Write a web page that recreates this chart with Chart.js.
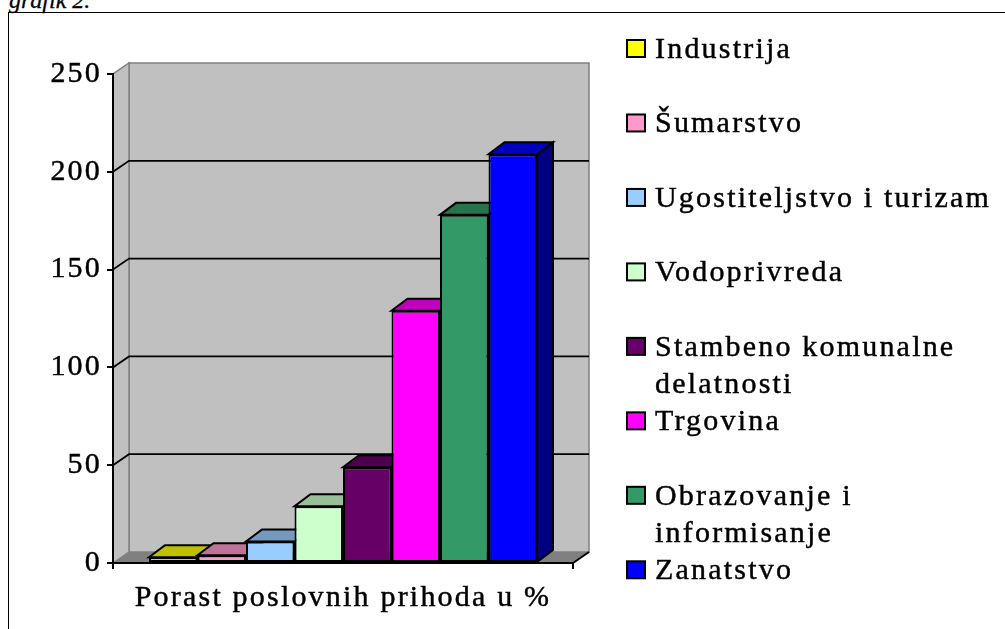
<!DOCTYPE html>
<html>
<head>
<meta charset="utf-8">
<script src="https://cdn.jsdelivr.net/npm/chart.js@4/dist/chart.umd.min.js"></script>
<style>
  html,body{margin:0;padding:0;background:#fff;width:1005px;height:629px;overflow:hidden;}
  #frame{position:absolute;left:8px;top:12px;width:1100px;height:700px;border-left:1.5px solid #000;border-top:1.5px solid #000;}
  #cap{position:absolute;left:9px;top:-12px;line-height:24px;font-style:italic;font-size:24px;font-family:"Liberation Serif","Times New Roman",serif;color:#000;white-space:nowrap;-webkit-text-stroke:0.3px #000;}
  #c{position:absolute;left:0;top:0;}
</style>
</head>
<body>
<div id="cap">grafik 2.</div>
<div id="frame"></div>
<canvas id="c" width="1005" height="629"></canvas>
<script>
const categories = ['Porast poslovnih prihoda u %'];
const seriesNames = ['Industrija','Šumarstvo','Ugostiteljstvo i turizam','Vodoprivreda','Stambeno komunalne delatnosti','Trgovina','Obrazovanje i informisanje','Zanatstvo'];
const seriesValues = [3, 4, 11, 29, 49, 129, 178, 209];
const seriesColors = ['#FFFF00','#FF99CC','#99CCFF','#CCFFCC','#660066','#FF00FF','#339966','#0000FF'];
const yTicks = [0, 50, 100, 150, 200, 250];

const FONT = '"Liberation Serif", "Times New Roman", serif';
const SPACING = '2.2px';
const TEXT_STROKE = 0.45;
const WALL_DX = 16, WALL_DY = 11;
const BAR_DX = 16, BAR_DY = 12;

function shade(hex, f){
  const n = parseInt(hex.slice(1),16);
  const r = Math.round(((n>>16)&255)*f), g = Math.round(((n>>8)&255)*f), b = Math.round((n&255)*f);
  return 'rgb('+r+','+g+','+b+')';
}

const threeD = {
  id:'threeD',
  beforeDraw(chart){
    const ctx = chart.ctx;
    ctx.letterSpacing = SPACING;
    const xs = chart.scales.x, ys = chart.scales.y;
    const L = xs.left, R = xs.right;
    const yT = ys.getPixelForValue(yTicks[yTicks.length-1]);
    const yB = ys.getPixelForValue(0);
    ctx.save();
    ctx.lineJoin = 'miter';
    ctx.beginPath();
    ctx.rect(L+WALL_DX, yT-WALL_DY, R-L, yB-yT);
    ctx.fillStyle = '#C0C0C0'; ctx.fill();
    ctx.strokeStyle = '#808080'; ctx.lineWidth = 1.5; ctx.stroke();
    ctx.beginPath();
    ctx.moveTo(L, yB); ctx.lineTo(L+WALL_DX, yB-WALL_DY); ctx.lineTo(L+WALL_DX, yT-WALL_DY); ctx.lineTo(L, yT); ctx.closePath();
    ctx.fillStyle = '#C0C0C0'; ctx.fill(); ctx.strokeStyle = '#808080'; ctx.stroke();
    ctx.beginPath();
    ctx.moveTo(L, yB); ctx.lineTo(R, yB); ctx.lineTo(R+WALL_DX, yB-WALL_DY); ctx.lineTo(L+WALL_DX, yB-WALL_DY); ctx.closePath();
    ctx.fillStyle = '#808080'; ctx.fill();
    ctx.beginPath(); ctx.moveTo(R, yB); ctx.lineTo(R+WALL_DX, yB-WALL_DY);
    ctx.strokeStyle = '#000'; ctx.lineWidth = 2; ctx.stroke();
    ctx.strokeStyle = '#000'; ctx.lineWidth = 1.8;
    yTicks.slice(1, -1).forEach(v => {
      const y = ys.getPixelForValue(v);
      ctx.beginPath();
      ctx.moveTo(L, y); ctx.lineTo(L+WALL_DX, y-WALL_DY); ctx.lineTo(R+WALL_DX, y-WALL_DY);
      ctx.stroke();
    });
    ctx.restore();
  },
  beforeDatasetsDraw(chart){
    const ctx = chart.ctx;
    ctx.save();
    ctx.lineWidth = 2; ctx.strokeStyle = '#000'; ctx.lineJoin = 'miter';
    chart.data.datasets.forEach((ds, i) => {
      const meta = chart.getDatasetMeta(i);
      meta.data.forEach(bar => {
        const x0 = bar.x - bar.width/2, x1 = bar.x + bar.width/2;
        const top = bar.y, base = bar.base;
        ctx.beginPath();
        ctx.moveTo(x1, top); ctx.lineTo(x1+BAR_DX, top-BAR_DY); ctx.lineTo(x1+BAR_DX, base-BAR_DY); ctx.lineTo(x1, base); ctx.closePath();
        ctx.fillStyle = shade(ds.backgroundColor, 0.5); ctx.fill(); ctx.stroke();
        ctx.beginPath();
        ctx.moveTo(x0, top); ctx.lineTo(x1, top); ctx.lineTo(x1+BAR_DX, top-BAR_DY); ctx.lineTo(x0+BAR_DX, top-BAR_DY); ctx.closePath();
        ctx.fillStyle = shade(ds.backgroundColor, 0.75); ctx.fill(); ctx.stroke();
      });
    });
    ctx.restore();
  },
  afterDraw(chart){
    const ctx = chart.ctx;
    ctx.save();
    ctx.letterSpacing = SPACING;
    ctx.font = '30px ' + FONT;
    ctx.textBaseline = 'alphabetic';
    ctx.textAlign = 'left';
    const maxW = 340;
    chart.data.datasets.forEach((ds, i) => {
      const baseY = 58 + i*74.47;
      ctx.fillStyle = ds.backgroundColor;
      ctx.fillRect(627, baseY-18, 18, 17);
      ctx.lineWidth = 2; ctx.strokeStyle = '#000';
      ctx.strokeRect(627, baseY-18, 18, 17);
      const words = ds.label.split(' ');
      const lines = []; let cur = '';
      words.forEach(w => {
        const t = cur ? cur + ' ' + w : w;
        if (cur && ctx.measureText(t).width > maxW) { lines.push(cur); cur = w; } else cur = t;
      });
      lines.push(cur);
      ctx.fillStyle = '#000';
      ctx.lineWidth = TEXT_STROKE;
      lines.forEach((ln, k) => { ctx.fillText(ln, 655, baseY + k*37); ctx.strokeText(ln, 655, baseY + k*37); });
    });
    ctx.restore();
  }
};

function build(){
  new Chart(document.getElementById('c'), {
    type: 'bar',
    data: {
      labels: categories,
      datasets: seriesNames.map((n, i) => ({
        label: n,
        data: [seriesValues[i]],
        backgroundColor: seriesColors[i],
        borderColor: '#000',
        borderWidth: 2,
        borderSkipped: false,
        categoryPercentage: 0.8435,
        barPercentage: 1.0
      }))
    },
    options: {
      responsive: false,
      animation: false,
      devicePixelRatio: 1,
      layout: { padding: { top: 74, right: 432, left: 0, bottom: 0 } },
      plugins: { legend: { display: false }, tooltip: { enabled: false }, title: { display: false } },
      scales: {
        y: {
          min: 0, max: 250,
          afterBuildTicks: s => { s.ticks = yTicks.map(v => ({ value: v })); },
          afterFit: s => { s.width = 113; },
          ticks: { color: '#000', font: { family: FONT, size: 30 }, padding: 5, textStrokeColor: '#000', textStrokeWidth: TEXT_STROKE },
          grid: { drawOnChartArea: false, drawTicks: true, tickLength: 6, color: '#000', lineWidth: 2 },
          border: { display: true, color: '#000', width: 2 }
        },
        x: {
          afterFit: s => { s.height = 66; },
          ticks: { color: '#000', font: { family: FONT, size: 30 }, padding: 11, maxRotation: 0, textStrokeColor: '#000', textStrokeWidth: TEXT_STROKE },
          grid: { drawOnChartArea: false, drawTicks: true, tickLength: 6, color: '#000', lineWidth: 2, offset: true },
          border: { display: true, color: '#000', width: 2 }
        }
      }
    },
    plugins: [threeD]
  });
}
if (document.fonts && document.fonts.load) {
  Promise.all([
    document.fonts.load('30px "Liberation Serif"'),
    document.fonts.load('italic 24px "Liberation Serif"')
  ]).then(build, build);
} else build();
</script>
</body>
</html>
